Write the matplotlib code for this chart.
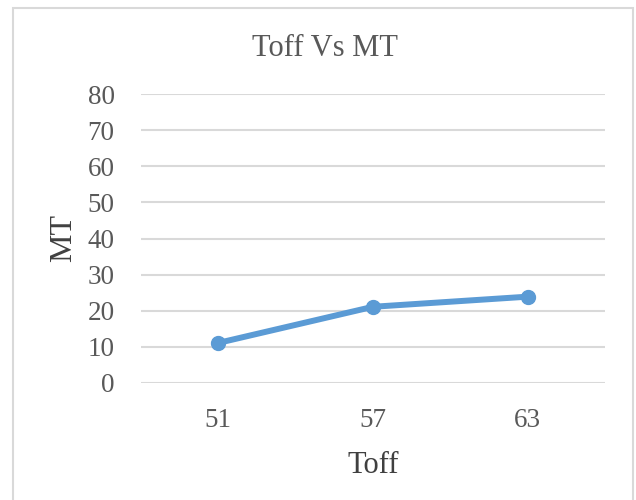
import matplotlib
matplotlib.use("Agg")
import matplotlib.pyplot as plt
from matplotlib.patches import Rectangle

# Toff settings and measured MT
toff = ["51", "57", "63"]
mt = [11.1, 21.1, 23.9]
y_ticks = [0, 10, 20, 30, 40, 50, 60, 70, 80]

text_col = "#595959"
grid_col = "#D9D9D9"
line_col = "#5B9BD5"

plt.rcParams["font.family"] = ["Liberation Serif", "DejaVu Serif"]

fig = plt.figure(figsize=(6.36, 5.0), dpi=100)
ax = fig.add_axes([141 / 636, 117 / 500, 464 / 636, 289 / 500])

x = list(range(len(toff)))
ax.plot(x, mt, color=line_col, linewidth=4.3, marker="o", markersize=10,
        solid_capstyle="round", zorder=3)

ax.set_xlim(-0.5, len(toff) - 0.5)
ax.set_ylim(0, 80)
ax.set_xticks(x)
ax.set_xticklabels(toff)
ax.set_yticks(y_ticks)

for s in ax.spines.values():
    s.set_visible(False)
ax.yaxis.grid(True, color=grid_col, linewidth=1.5)
ax.set_axisbelow(True)
ax.tick_params(length=0, labelsize=19.5, colors=text_col)
ax.tick_params(axis="y", pad=19)
ax.tick_params(axis="x", pad=18)

ax.set_xlabel("Toff", fontsize=22, color="#404040", labelpad=13)
ax.set_ylabel("MT", fontsize=23, color="#404040", labelpad=7)

fig.text(325 / 636, 452 / 500, "Toff Vs MT", ha="center", va="center",
         fontsize=22, color=text_col)

# chart area border
fig.patches.append(Rectangle((13 / 636, -0.1), 620 / 636, 1.084, transform=fig.transFigure,
                             fill=False, edgecolor=grid_col, linewidth=1.5))

fig.savefig("out.png", dpi=100)
